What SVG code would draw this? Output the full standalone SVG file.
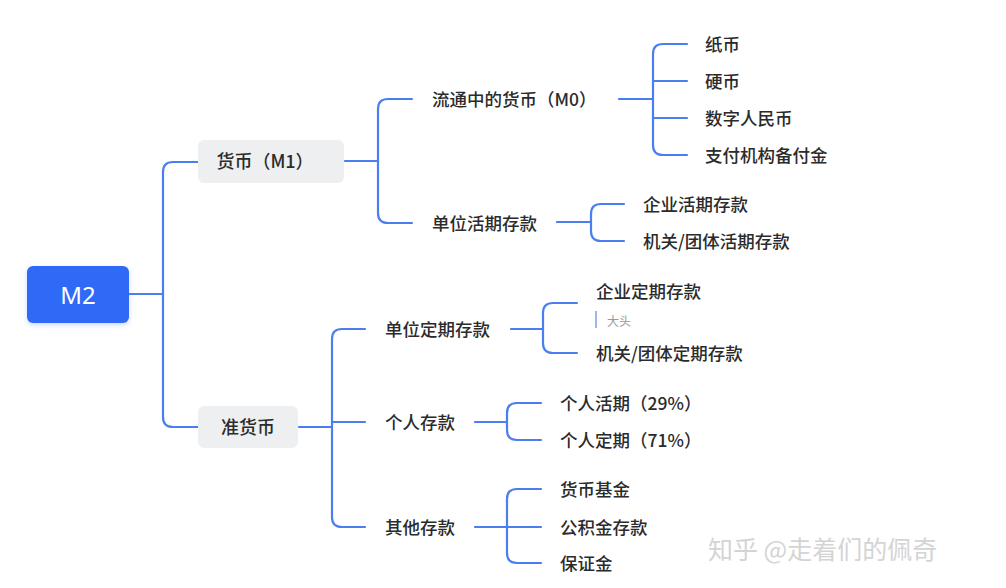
<svg xmlns="http://www.w3.org/2000/svg" width="1006" height="588" viewBox="0 0 1006 588">
<defs>
<filter id="sh" x="-20%" y="-20%" width="140%" height="160%"><feDropShadow dx="0" dy="2" stdDeviation="2.5" flood-color="#2f6bf5" flood-opacity="0.25"/></filter>
<style>
.ln{fill:none;stroke:#4b7ef0;stroke-width:2.2;stroke-linecap:round;stroke-linejoin:round}
.t{font-family:"Noto Sans CJK SC","Noto Sans",sans-serif;font-size:17.5px;font-weight:500;fill:#2b2b2b;dominant-baseline:central}
.nt{font-family:"Noto Sans CJK SC","Noto Sans",sans-serif;font-size:18px;font-weight:500;fill:#2b2b2b;text-anchor:middle;dominant-baseline:central}
.box{fill:#eeeff1}
</style>
</defs>
<rect width="1006" height="588" fill="#ffffff"/>
<g id="connectors">
<path class="ln" d="M129,294 H163 M198,162 H173 Q163,162 163,172 V417 Q163,427 173,427 H198"/>
<path class="ln" d="M345,161 H378 M412,99 H388 Q378,99 378,109 V213 Q378,223 388,223 H412"/>
<path class="ln" d="M619,99 H653 M687,44 H663 Q653,44 653,54 V145 Q653,155 663,155 H687 M653,81 H687 M653,118 H687"/>
<path class="ln" d="M557,222 H591 M624,204 H601 Q591,204 591,214 V231 Q591,241 601,241 H624"/>
<path class="ln" d="M299,427 H332 M365,329 H342 Q332,329 332,339 V517 Q332,527 342,527 H365 M332,422 H365"/>
<path class="ln" d="M511,329 H543 M577,303 H553 Q543,303 543,313 V343 Q543,353 553,353 H577"/>
<path class="ln" d="M475,422 H507 M541,403 H517 Q507,403 507,413 V430 Q507,440 517,440 H541"/>
<path class="ln" d="M475,527 H507 M541,489 H517 Q507,489 507,499 V553 Q507,563 517,563 H541 M507,527 H541"/>
</g>
<g id="m2"><rect x="27" y="266" width="102" height="57" rx="6" fill="#2f6bf5" filter="url(#sh)"/><text x="78" y="294" font-family="'Noto Sans','Noto Sans CJK SC',sans-serif" font-size="24" fill="#ffffff" text-anchor="middle" dominant-baseline="central">M2</text></g>
<g id="m1"><rect class="box" x="198" y="140" width="146" height="43" rx="6"/><text class="nt" x="265" y="160">货币（M1）</text></g>
<g id="quasi"><rect class="box" x="198" y="406" width="100" height="42" rx="6"/><text class="nt" x="248" y="426">准货币</text></g>
<g id="m0"><text class="t" x="432" y="98">流通中的货币（M0）</text></g>
<g id="unit-demand"><text class="t" x="432" y="222">单位活期存款</text></g>
<g id="paper"><text class="t" x="705" y="43">纸币</text></g>
<g id="coin"><text class="t" x="705" y="80">硬币</text></g>
<g id="ecny"><text class="t" x="705" y="117">数字人民币</text></g>
<g id="reserve"><text class="t" x="705" y="154">支付机构备付金</text></g>
<g id="corp-demand"><text class="t" x="643" y="203">企业活期存款</text></g>
<g id="org-demand"><text class="t" x="643" y="240">机关/团体活期存款</text></g>
<g id="unit-time"><text class="t" x="385" y="328">单位定期存款</text></g>
<g id="personal"><text class="t" x="385" y="421">个人存款</text></g>
<g id="other"><text class="t" x="385" y="526">其他存款</text></g>
<g id="corp-time"><text class="t" x="596" y="290">企业定期存款</text><rect x="595" y="311" width="2" height="17" fill="#9db4ee"/><text x="607" y="320" font-family="'Noto Sans CJK SC',sans-serif" font-size="12" fill="#9a9a9a" dominant-baseline="central">大头</text></g>
<g id="org-time"><text class="t" x="596" y="352">机关/团体定期存款</text></g>
<g id="p-demand"><text class="t" x="560" y="402">个人活期（29%）</text></g>
<g id="p-time"><text class="t" x="560" y="439">个人定期（71%）</text></g>
<g id="mmf"><text class="t" x="560" y="488">货币基金</text></g>
<g id="fund"><text class="t" x="560" y="526">公积金存款</text></g>
<g id="margin"><text class="t" x="560" y="562">保证金</text></g>
<text x="708" y="548" font-family="'Noto Sans CJK SC',sans-serif" font-size="25" fill="#d4d4d4" dominant-baseline="central">知乎 @走着们的佩奇</text>
</svg>
